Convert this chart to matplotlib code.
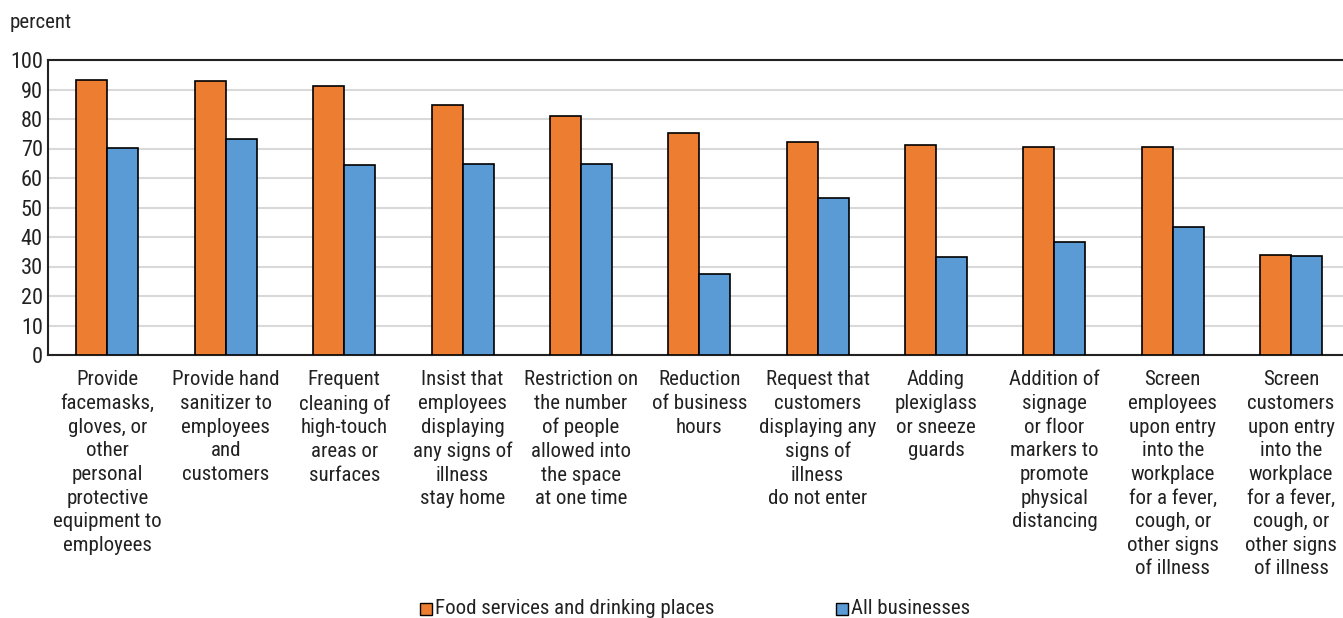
import numpy as np
import matplotlib.pyplot as plt

plt.rcParams['font.family'] = ['Roboto Condensed', 'Archivo Narrow', 'Barlow Condensed', 'DejaVu Sans']

categories = [
    "Provide\nfacemasks,\ngloves, or\nother\npersonal\nprotective\nequipment to\nemployees",
    "Provide hand\nsanitizer to\nemployees\nand\ncustomers",
    "Frequent\ncleaning of\nhigh-touch\nareas or\nsurfaces",
    "Insist that\nemployees\ndisplaying\nany signs of\nillness\nstay home",
    "Restriction on\nthe number\nof people\nallowed into\nthe space\nat one time",
    "Reduction\nof business\nhours",
    "Request that\ncustomers\ndisplaying any\nsigns of\nillness\ndo not enter",
    "Adding\nplexiglass\nor sneeze\nguards",
    "Addition of\nsignage\nor floor\nmarkers to\npromote\nphysical\ndistancing",
    "Screen\nemployees\nupon entry\ninto the\nworkplace\nfor a fever,\ncough, or\nother signs\nof illness",
    "Screen\ncustomers\nupon entry\ninto the\nworkplace\nfor a fever,\ncough, or\nother signs\nof illness",
]
food = [93.2, 92.9, 91.2, 84.7, 81.0, 75.3, 72.2, 71.2, 70.6, 70.4, 34.0]
all_biz = [70.2, 73.2, 64.4, 64.7, 64.7, 27.5, 53.2, 33.1, 38.4, 43.3, 33.7]
series_names = ["Food services and drinking places", "All businesses"]
colors = ["#ED7D31", "#5B9BD5"]
txt_color = '#222222'

W, H = 1343, 618
fig = plt.figure(figsize=(W / 100, H / 100), dpi=100)
# axes deliberately run past the right edge, as in the original
ax = fig.add_axes([48.3 / W, 1 - 355 / H, 1302 / W, 295 / H])

x = np.arange(len(categories))
bw = 0.262
ax.bar(x - bw / 2, food, bw, color=colors[0], edgecolor='black', linewidth=1.2, zorder=3)
ax.bar(x + bw / 2, all_biz, bw, color=colors[1], edgecolor='black', linewidth=1.2, zorder=3)

ax.set_xlim(-0.5, len(categories) - 0.5)
ax.set_ylim(0, 100)
ax.set_yticks(range(0, 101, 10))
ax.yaxis.grid(True, color='#d9d9d9', linewidth=1.5, zorder=0)
ax.set_axisbelow(True)
for s in ['top', 'bottom', 'left']:
    ax.spines[s].set_color(txt_color)
    ax.spines[s].set_linewidth(1.5)
ax.spines['right'].set_visible(False)
ax.tick_params(axis='y', length=0, pad=4, labelsize=16, colors=txt_color)
ax.tick_params(axis='x', length=0, pad=11)
ax.set_xticks(x)
ax.set_xticklabels(categories, fontsize=15, linespacing=1.31, color=txt_color, va='top')

fig.text(10 / W, 1 - 22 / H, "percent", fontsize=15, color=txt_color, va='center')

# legend drawn by hand so it can sit half off the bottom like the original
for px, c, name in zip([420, 836], colors, series_names):
    fig.patches.append(plt.Rectangle((px / W, 1 - 615 / H), 12 / W, 12 / H,
                                     facecolor=c, edgecolor='black', linewidth=1,
                                     transform=fig.transFigure, figure=fig))
    fig.text((px + 15) / W, 1 - 608 / H, name, fontsize=15, color=txt_color, va='center')

fig.savefig('out.png', dpi=100)
